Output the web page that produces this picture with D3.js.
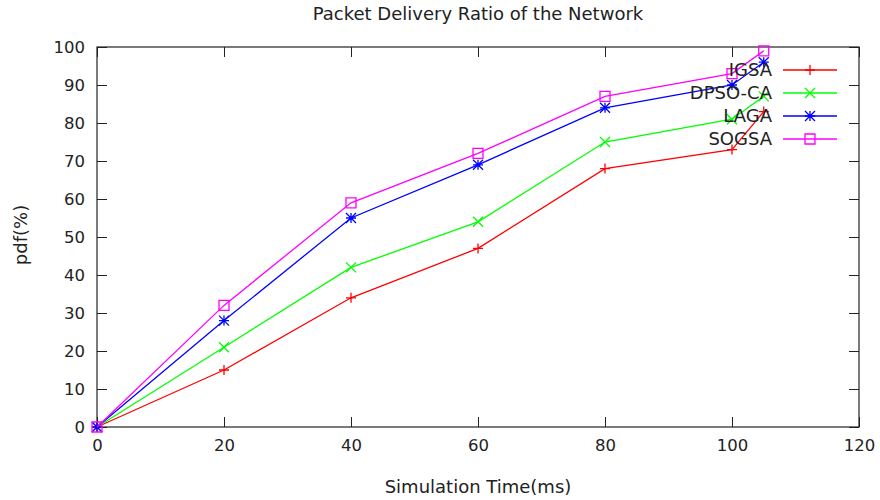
<!DOCTYPE html>
<html><head><meta charset="utf-8">
<script src="https://cdn.jsdelivr.net/npm/d3@7"></script>
<style>body{margin:0;background:#fff}text{font-family:"DejaVu Sans",sans-serif;fill:#222}</style>
</head><body>
<svg id="c" width="880" height="500"></svg>
<script>
const times = [0, 20, 40, 60, 80, 100, 105];
const igsa = [0, 15, 34, 47, 68, 73, 83];
const dpsoca = [0, 21, 42, 54, 75, 81, 87];
const laga = [0, 28, 55, 69, 84, 90, 96];
const sogsa = [0, 32, 59, 72, 87, 93, 99];
const seriesNames = ["IGSA", "DPSO-CA", "LAGA", "SOGSA"];
const xTicks = [0, 20, 40, 60, 80, 100, 120];
const yTicks = [0, 10, 20, 30, 40, 50, 60, 70, 80, 90, 100];

const series = [
  {name: seriesNames[0], values: igsa, color: "#ff0000", marker: "plus"},
  {name: seriesNames[1], values: dpsoca, color: "#00ff00", marker: "cross"},
  {name: seriesNames[2], values: laga, color: "#0000ff", marker: "star"},
  {name: seriesNames[3], values: sogsa, color: "#ff00ff", marker: "square"}
];

const svg = d3.select("#c");
const L = 97, R = 859, T = 47, B = 427;
const x = d3.scaleLinear().domain([0, 120]).range([L, R]);
const y = d3.scaleLinear().domain([0, 100]).range([B, T]);

// axes
const tl = 10;
const gx = svg.append("g").attr("transform", `translate(0,${B})`)
  .call(d3.axisBottom(x).tickValues(xTicks).tickSizeInner(-tl).tickSizeOuter(0).tickPadding(12));
const gxt = svg.append("g").attr("transform", `translate(0,${T})`)
  .call(d3.axisTop(x).tickValues(xTicks).tickSizeInner(-tl).tickSizeOuter(0).tickFormat(""));
const gy = svg.append("g").attr("transform", `translate(${L},0)`)
  .call(d3.axisLeft(y).tickValues(yTicks).tickSizeInner(-tl).tickSizeOuter(0).tickPadding(12));
const gyr = svg.append("g").attr("transform", `translate(${R},0)`)
  .call(d3.axisRight(y).tickValues(yTicks).tickSizeInner(-tl).tickSizeOuter(0).tickFormat(""));
[gx, gxt, gy, gyr].forEach(g => {
  g.select(".domain").remove();
  g.selectAll("line").attr("stroke", "#222").attr("stroke-width", 1);
  g.selectAll("text").attr("font-size", 16.5).attr("fill", "#222").style("font-family", "DejaVu Sans, sans-serif");
});
svg.append("rect").attr("x", L).attr("y", T).attr("width", R - L).attr("height", B - T)
  .attr("fill", "none").attr("stroke", "#222").attr("stroke-width", 1.2);

// labels
svg.append("text").attr("x", (L + R) / 2).attr("y", 20).attr("text-anchor", "middle")
  .attr("font-size", 18).text("Packet Delivery Ratio of the Network");
svg.append("text").attr("x", (L + R) / 2).attr("y", 493).attr("text-anchor", "middle")
  .attr("font-size", 18).text("Simulation Time(ms)");
svg.append("text").attr("transform", `translate(27,${(T + B) / 2 - 2}) rotate(-90)`)
  .attr("text-anchor", "middle").attr("font-size", 18).text("pdf(%)");

function drawMarker(g, type, cx, cy, color) {
  const s = 5;
  const p = d3.path();
  if (type === "plus" || type === "star") {
    p.moveTo(cx - s, cy); p.lineTo(cx + s, cy);
    p.moveTo(cx, cy - s); p.lineTo(cx, cy + s);
  }
  if (type === "cross" || type === "star") {
    p.moveTo(cx - s, cy - s); p.lineTo(cx + s, cy + s);
    p.moveTo(cx - s, cy + s); p.lineTo(cx + s, cy - s);
  }
  if (type === "square") {
    p.rect(cx - s, cy - s, 2 * s, 2 * s);
  }
  g.append("path").attr("d", p.toString()).attr("fill", "none")
    .attr("stroke", color).attr("stroke-width", 1.3);
}

const line = d3.line().x(d => x(d[0])).y(d => y(d[1]));
const plot = svg.append("g");
series.forEach(s => {
  const pts = times.map((t, i) => [t, s.values[i]]);
  plot.append("path").datum(pts).attr("d", line).attr("fill", "none")
    .attr("stroke", s.color).attr("stroke-width", 1.3);
  pts.forEach(p => drawMarker(plot, s.marker, x(p[0]), y(p[1]), s.color));
});

// legend
const leg = svg.append("g");
series.forEach((s, i) => {
  const ly = 70 + i * 23;
  leg.append("text").attr("x", 772).attr("y", ly).attr("dy", "0.35em")
    .attr("text-anchor", "end").attr("font-size", 18).text(s.name);
  leg.append("line").attr("x1", 783).attr("x2", 837).attr("y1", ly).attr("y2", ly)
    .attr("stroke", s.color).attr("stroke-width", 1.3);
  drawMarker(leg, s.marker, 810, ly, s.color);
});
</script>
</body></html>
